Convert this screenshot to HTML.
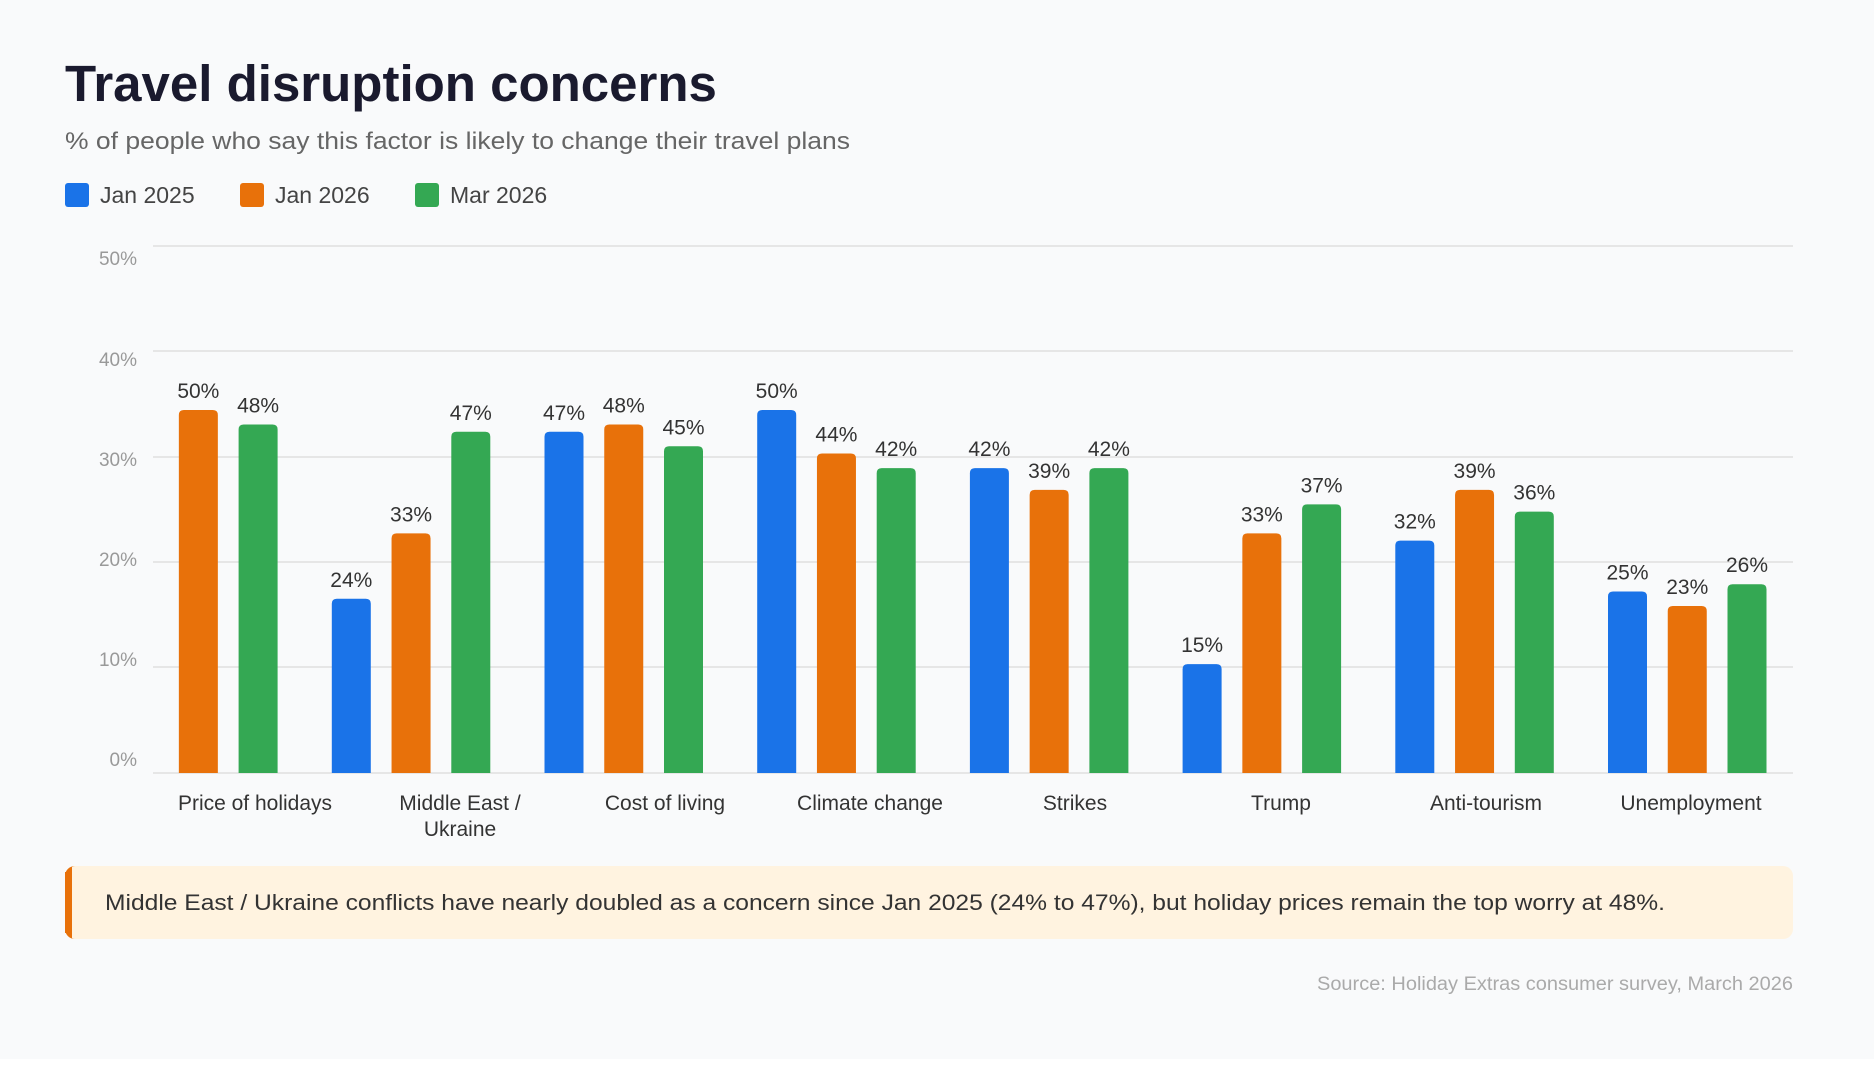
<!DOCTYPE html>
<html><head><meta charset="utf-8"><style>
html,body{margin:0;padding:0;background:#fff;}
body{width:1874px;height:1072px;overflow:hidden;font-family:"Liberation Sans",sans-serif;}
</style></head><body>
<svg width="1874" height="1072" xmlns="http://www.w3.org/2000/svg" font-family="Liberation Sans, sans-serif">
<rect x="0" y="0" width="1874" height="1059" fill="#f9fafb"/>
<text x="65" y="101" font-size="51" font-weight="bold" fill="#1a1a2e">Travel disruption concerns</text>
<text x="65" y="149" font-size="24" fill="#666" textLength="785" lengthAdjust="spacingAndGlyphs">% of people who say this factor is likely to change their travel plans</text>
<rect x="65" y="183" width="24" height="24" rx="3" fill="#1a73e8"/><text x="100" y="203" font-size="23" fill="#444">Jan 2025</text>
<rect x="240" y="183" width="24" height="24" rx="3" fill="#e8710a"/><text x="275" y="203" font-size="23" fill="#444">Jan 2026</text>
<rect x="415" y="183" width="24" height="24" rx="3" fill="#34a853"/><text x="450" y="203" font-size="23" fill="#444">Mar 2026</text>
<g stroke="#e6e6e6" stroke-width="2">
<line x1="153" y1="246" x2="1793" y2="246"/><line x1="153" y1="351" x2="1793" y2="351"/>
<line x1="153" y1="457" x2="1793" y2="457"/><line x1="153" y1="562" x2="1793" y2="562"/>
<line x1="153" y1="667" x2="1793" y2="667"/><line x1="153" y1="773" x2="1793" y2="773"/>
</g>
<g font-size="19" fill="#999" text-anchor="end">
<text x="137" y="265">50%</text><text x="137" y="366">40%</text><text x="137" y="466">30%</text>
<text x="137" y="566">20%</text><text x="137" y="666">10%</text><text x="137" y="766">0%</text>
</g>
<g id="bars"></g>
<g font-size="21" fill="#333" text-anchor="middle">
<text x="255" y="810">Price of holidays</text>
<text x="460" y="810">Middle East /</text><text x="460" y="836">Ukraine</text>
<text x="665" y="810">Cost of living</text>
<text x="870" y="810">Climate change</text>
<text x="1075" y="810">Strikes</text>
<text x="1281" y="810">Trump</text>
<text x="1486" y="810">Anti-tourism</text>
<text x="1691" y="810">Unemployment</text>
</g>
<rect x="65" y="866" width="1728" height="73" rx="10" fill="#fff3e0"/>
<rect x="65" y="872" width="7" height="61" fill="#e8710a"/>
<path d="M75 866 a10 10 0 0 0 -10 10 v53 a10 10 0 0 0 10 10 h-3 v-73z" fill="#e8710a"/>
<text x="105" y="910" font-size="22" fill="#333" textLength="1560" lengthAdjust="spacingAndGlyphs">Middle East / Ukraine conflicts have nearly doubled as a concern since Jan 2025 (24% to 47%), but holiday prices remain the top worry at 48%.</text>
<text x="1793" y="990" font-size="19" fill="#aaa" text-anchor="end" textLength="476" lengthAdjust="spacingAndGlyphs">Source: Holiday Extras consumer survey, March 2026</text>
</svg>
<script>
var d=[[null,50,48],[24,33,47],[47,48,45],[50,44,42],[42,39,42],[15,33,37],[32,39,36],[25,23,26]];
var c=["#1a73e8","#e8710a","#34a853"];var g=document.getElementById("bars");var s="";
for(var i=0;i<8;i++)for(var j=0;j<3;j++){var v=d[i][j];if(v==null)continue;
var cx=138.6+212.7*i+59.75*j;var h=v*7.26;var y=773-h;var x=cx-19.5;
s+='<path d="M'+x+' 773 V'+(y+5)+' Q'+x+' '+y+' '+(x+5)+' '+y+' H'+(x+34)+' Q'+(x+39)+' '+y+' '+(x+39)+' '+(y+5)+' V773Z" fill="'+c[j]+'"/>';
s+='<text x="'+cx+'" y="'+(y-12)+'" font-size="21" fill="#333" text-anchor="middle">'+v+'%</text>';}
g.innerHTML=s;
</script>
</body></html>
